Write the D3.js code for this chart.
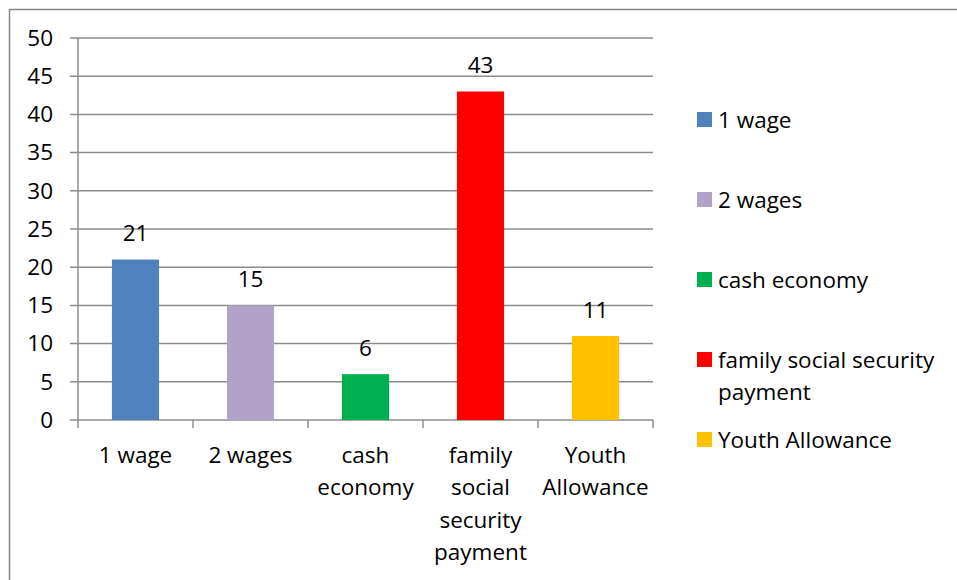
<!DOCTYPE html>
<html lang="en">
<head>
<meta charset="utf-8" />
<title>Income sources</title>
<script src="https://d3js.org/d3.v7.min.js"></script>
<style>
  body { margin: 0; background: #fff; }
  text { font-family: "Open Sans", sans-serif; fill: #000; }
</style>
</head>
<body>
<script>
// data
const categories = ["1 wage", "2 wages", "cash economy", "family social security payment", "Youth Allowance"];
const axisLabels = [["1 wage"], ["2 wages"], ["cash", "economy"], ["family", "social", "security", "payment"], ["Youth", "Allowance"]];
const legendLabels = [["1 wage"], ["2 wages"], ["cash economy"], ["family social security", "payment"], ["Youth Allowance"]];
const values = [21, 15, 6, 43, 11];
const colors = ["#4f81bd", "#b2a2c7", "#00b050", "#ff0000", "#ffc000"];
const yTicks = [0, 5, 10, 15, 20, 25, 30, 35, 40, 45, 50];

const W = 957, H = 580;
const FS = 22.5;
const svg = d3.select("body").append("svg")
    .attr("width", W).attr("height", H);

// outer frame
svg.append("rect")
    .attr("x", 9.5).attr("y", 9.5)
    .attr("width", W + 10).attr("height", H + 10)
    .attr("fill", "none").attr("stroke", "#868686").attr("stroke-width", 1.5);

const plot = { left: 78, right: 653, top: 38, bottom: 420 };

const x = d3.scaleBand()
    .domain(categories)
    .range([plot.left, plot.right])
    .paddingInner(0.59).paddingOuter(0.295);

const xCat = d3.scaleBand().domain(categories).range([plot.left, plot.right]);

const y = d3.scaleLinear().domain([0, 50]).range([plot.bottom, plot.top]);

// gridlines
svg.append("g")
  .selectAll("line").data(yTicks).join("line")
    .attr("x1", plot.left - 8).attr("x2", plot.right)
    .attr("y1", d => y(d)).attr("y2", d => y(d))
    .attr("stroke", "#8c8c8c").attr("stroke-width", 1.5);

// y axis line
svg.append("line")
    .attr("x1", plot.left).attr("x2", plot.left)
    .attr("y1", plot.top).attr("y2", plot.bottom + 8)
    .attr("stroke", "#8c8c8c").attr("stroke-width", 1.5);

// category ticks
svg.append("g")
  .selectAll("line").data(categories).join("line")
    .attr("x1", d => xCat(d) + xCat.bandwidth()).attr("x2", d => xCat(d) + xCat.bandwidth())
    .attr("y1", plot.bottom).attr("y2", plot.bottom + 8)
    .attr("stroke", "#8c8c8c").attr("stroke-width", 1.5);

// y tick labels
svg.append("g")
  .selectAll("text").data(yTicks).join("text")
    .attr("x", 53).attr("y", d => y(d))
    .attr("dy", "0.35em")
    .attr("text-anchor", "end")
    .attr("font-size", FS)
    .text(d => d);

// bars
svg.append("g")
  .selectAll("rect").data(values).join("rect")
    .attr("x", (d, i) => x(categories[i]))
    .attr("width", x.bandwidth())
    .attr("y", d => y(d))
    .attr("height", d => y(0) - y(d))
    .attr("fill", (d, i) => colors[i]);

// value labels
svg.append("g")
  .selectAll("text").data(values).join("text")
    .attr("x", (d, i) => x(categories[i]) + x.bandwidth() / 2)
    .attr("y", d => y(d) - 26)
    .attr("dy", "0.35em")
    .attr("text-anchor", "middle")
    .attr("font-size", FS)
    .text(d => d);

// category labels
const cl = svg.append("g")
  .selectAll("text").data(axisLabels).join("text")
    .attr("text-anchor", "middle")
    .attr("font-size", FS);
cl.selectAll("tspan").data((d, i) => d.map(s => ({ s, i }))).join("tspan")
    .attr("x", d => xCat(categories[d.i]) + xCat.bandwidth() / 2)
    .attr("y", (d, j) => 455 + j * 32.5)
    .attr("dy", "0.35em")
    .text(d => d.s);

// legend
const legendY = [120, 200, 280, 360, 440];
const lg = svg.append("g").selectAll("g").data(legendLabels).join("g")
    .attr("transform", (d, i) => `translate(697,${legendY[i]})`);
lg.append("rect")
    .attr("x", 0).attr("y", -8)
    .attr("width", 15).attr("height", 15)
    .attr("fill", (d, i) => colors[i]);
lg.append("text")
    .attr("font-size", FS)
  .selectAll("tspan").data(d => d).join("tspan")
    .attr("x", 21)
    .attr("y", (d, j) => j * 32)
    .attr("dy", "0.35em")
    .text(d => d);
</script>
</body>
</html>
